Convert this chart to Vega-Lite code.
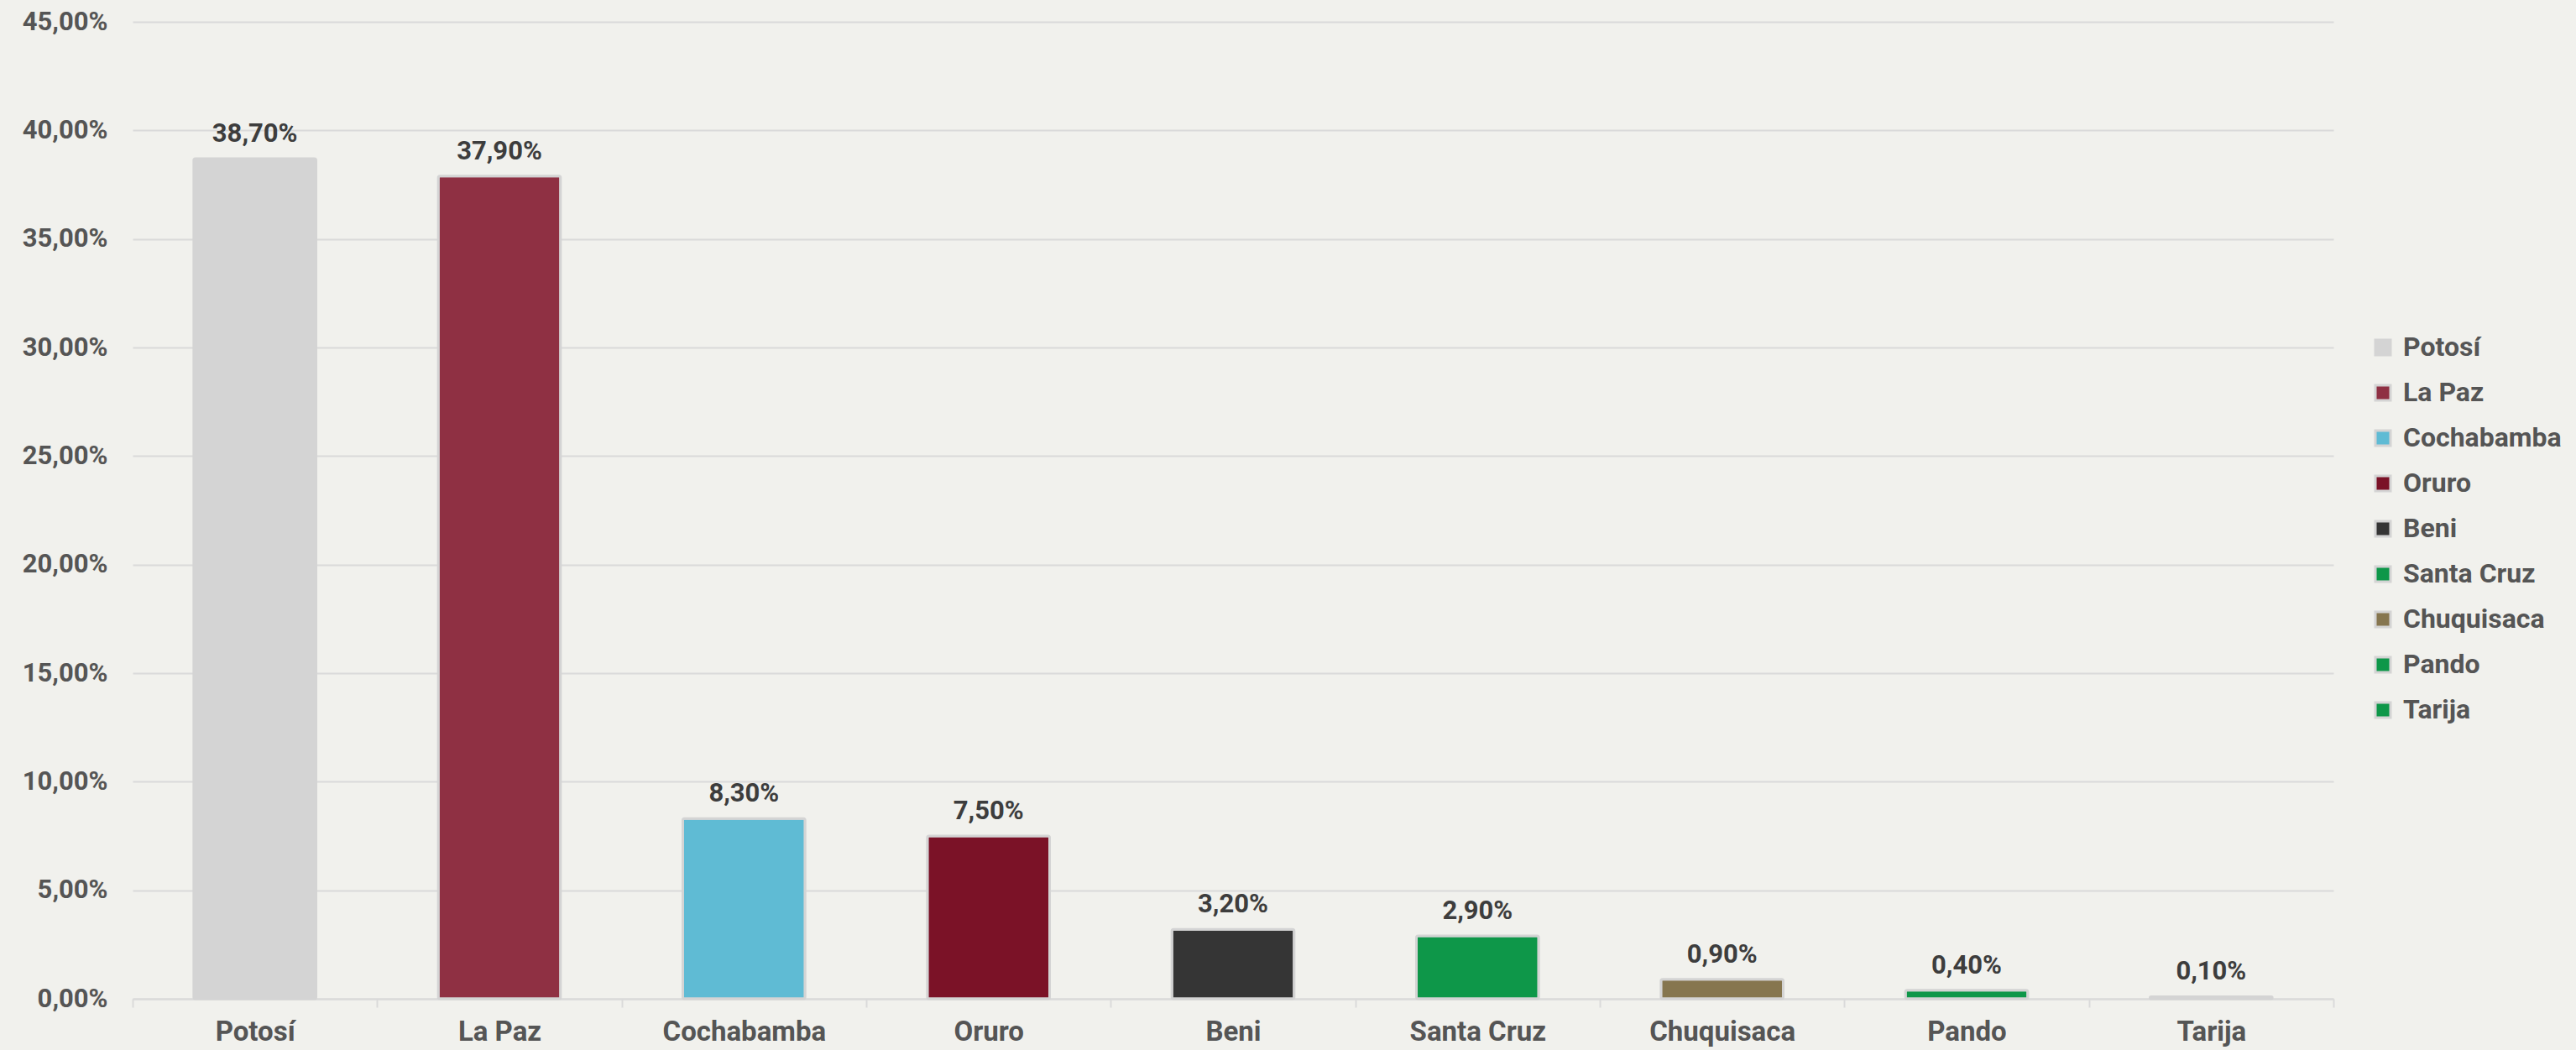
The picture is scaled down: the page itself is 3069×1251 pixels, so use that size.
{
  "$schema": "https://vega.github.io/schema/vega-lite/v6.json",
  "width": 2622,
  "height": 1164,
  "autosize": {"type": "none"},
  "padding": {"left": 158, "top": 26, "right": 289, "bottom": 61},
  "background": "#f1f1ed",
  "config": {
    "locale": {"number": {"decimal": ",", "thousands": ".", "grouping": [3], "currency": ["", " €"]}},
    "view": {"stroke": null},
    "font": "Roboto"
  },
  "data": {
    "values": [
      {"departamento": "Potosí", "valor": 0.387},
      {"departamento": "La Paz", "valor": 0.379},
      {"departamento": "Cochabamba", "valor": 0.083},
      {"departamento": "Oruro", "valor": 0.075},
      {"departamento": "Beni", "valor": 0.032},
      {"departamento": "Santa Cruz", "valor": 0.029},
      {"departamento": "Chuquisaca", "valor": 0.009},
      {"departamento": "Pando", "valor": 0.004},
      {"departamento": "Tarija", "valor": 0.001}
    ]
  },
  "encoding": {
    "x": {
      "field": "departamento",
      "type": "nominal",
      "sort": null,
      "scale": {"paddingInner": 0, "paddingOuter": 0},
      "axis": {
        "title": null,
        "labelAngle": 0,
        "labelFont": "Roboto",
        "labelFontSize": 33,
        "labelFontWeight": "bold",
        "labelColor": "#555555",
        "labelPadding": 13,
        "labelLimit": 400,
        "tickBand": "extent",
        "tickColor": "#dadada",
        "tickWidth": 2,
        "tickSize": 10,
        "domainColor": "#dadada",
        "domainWidth": 2,
        "grid": false
      }
    },
    "y": {
      "field": "valor",
      "type": "quantitative",
      "scale": {"domain": [0, 0.45], "nice": false},
      "axis": {
        "title": null,
        "format": ".2%",
        "values": [0, 0.05, 0.1, 0.15, 0.2, 0.25, 0.3, 0.35, 0.4, 0.45],
        "labelFont": "Roboto",
        "labelFontSize": 31,
        "labelFontWeight": "bold",
        "labelColor": "#555555",
        "labelPadding": 30,
        "ticks": false,
        "domain": false,
        "grid": true,
        "gridColor": "#dadada",
        "gridWidth": 2
      }
    }
  },
  "layer": [
    {
      "mark": {"type": "bar", "width": {"band": 0.5}, "stroke": "#d4d4d4", "strokeWidth": 3, "cornerRadius": 2},
      "encoding": {
        "color": {
          "field": "departamento",
          "type": "nominal",
          "sort": null,
          "scale": {
            "domain": ["Potosí", "La Paz", "Cochabamba", "Oruro", "Beni", "Santa Cruz", "Chuquisaca", "Pando", "Tarija"],
            "range": ["#d4d4d4", "#8f3043", "#5fbbd4", "#7b1227", "#353535", "#0e9749", "#86764f", "#0e9749", "#0e9749"]
          },
          "legend": {
            "title": null,
            "orient": "none",
            "legendX": 2665,
            "legendY": 372,
            "symbolType": "square",
            "symbolSize": 324,
            "symbolStrokeColor": "#d4d4d4",
            "symbolStrokeWidth": 3,
            "symbolOpacity": 1,
            "labelFont": "Roboto",
            "labelFontSize": 32,
            "labelFontWeight": "bold",
            "labelColor": "#555555",
            "labelOffset": 8,
            "labelLimit": 400,
            "rowPadding": 22
          }
        }
      }
    },
    {
      "mark": {"type": "text", "baseline": "alphabetic", "dy": -20, "font": "Roboto", "fontSize": 31, "fontWeight": "bold", "color": "#3d3d3d"},
      "encoding": {
        "text": {"field": "valor", "type": "quantitative", "format": ".2%"}
      }
    }
  ]
}
